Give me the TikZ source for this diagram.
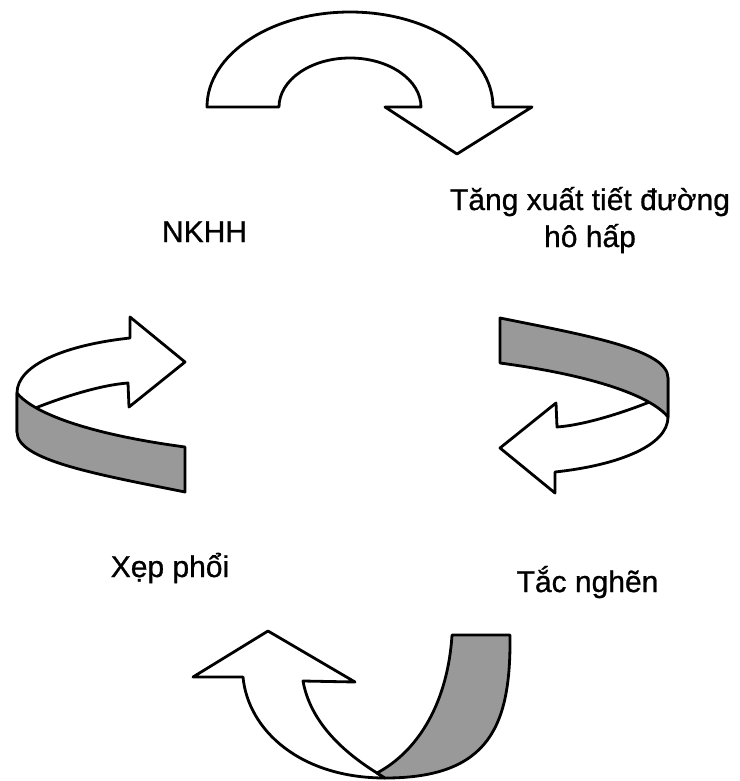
\documentclass[tikz,border=0pt]{standalone}
\usepackage{fontspec}
\setmainfont{Liberation Sans}
\newfontfamily\lblfont[FakeBold=0.8]{Liberation Sans}
\definecolor{ribbongray}{gray}{0.6}
\tikzset{
  band/.style={draw, line width=2.8pt, fill=white, line join=round},
  backband/.style={band, fill=ribbongray},
  lbl/.style={font=\lblfont\fontsize{30}{37}\selectfont, align=center, inner sep=0pt}
}

\begin{document}
\begin{tikzpicture}[x=1pt, y=-1pt]
  \useasboundingbox (0,0) rectangle (739,781);

  % top arrow
  \draw[band] (207,107) arc[start angle=180, end angle=360, x radius=143, y radius=95]
    -- (532,107) -- (457,154) -- (385,107) -- (421,107)
    arc[start angle=360, end angle=180, x radius=71, y radius=49] -- cycle;

  % twisted arrows on the right and on the left
  \foreach \rot in {0,180}{
    \begin{scope}[rotate around={\rot:(342.5,405)}]
      \draw[band] (652,401) .. controls (625,412) and (585,425) .. (557,427)
        -- (556,403) -- (500,448) -- (555,493) -- (555,472)
        .. controls (620,465) and (668,445) .. (668,417) -- (668,378) -- cycle;
      \draw[backband] (500,318) .. controls (590,336) and (668,350) .. (668,378)
        -- (668,417) .. controls (650,395) and (590,375) .. (500,363) -- cycle;
    \end{scope}
  }

  % bottom arrow
  \draw[band] (243,677) -- (193,677) -- (268,631) -- (355,682) -- (303,681)
    .. controls (310,720) and (340,750) .. (377,773) -- (385,778)
    .. controls (300,778) and (248,730) .. (243,677) -- cycle;
  \draw[backband] (452,635) -- (510,635) .. controls (511,725) and (490,778) .. (385,778)
    -- (377,773) .. controls (420,750) and (448,700) .. (452,635) -- cycle;

  \node[lbl, anchor=base] (nkhh) at (204.5,242) {NKHH};
  \node[lbl, anchor=base] (tangxt) at (590,247) {Tăng xuất tiết đường\\hô hấp};
  \node[lbl, anchor=base] (xepphoi) at (170,577) {Xẹp phổi};
  \node[lbl, anchor=base] (tacnghen) at (587.5,592) {Tắc nghẽn};
\end{tikzpicture}
\end{document}
